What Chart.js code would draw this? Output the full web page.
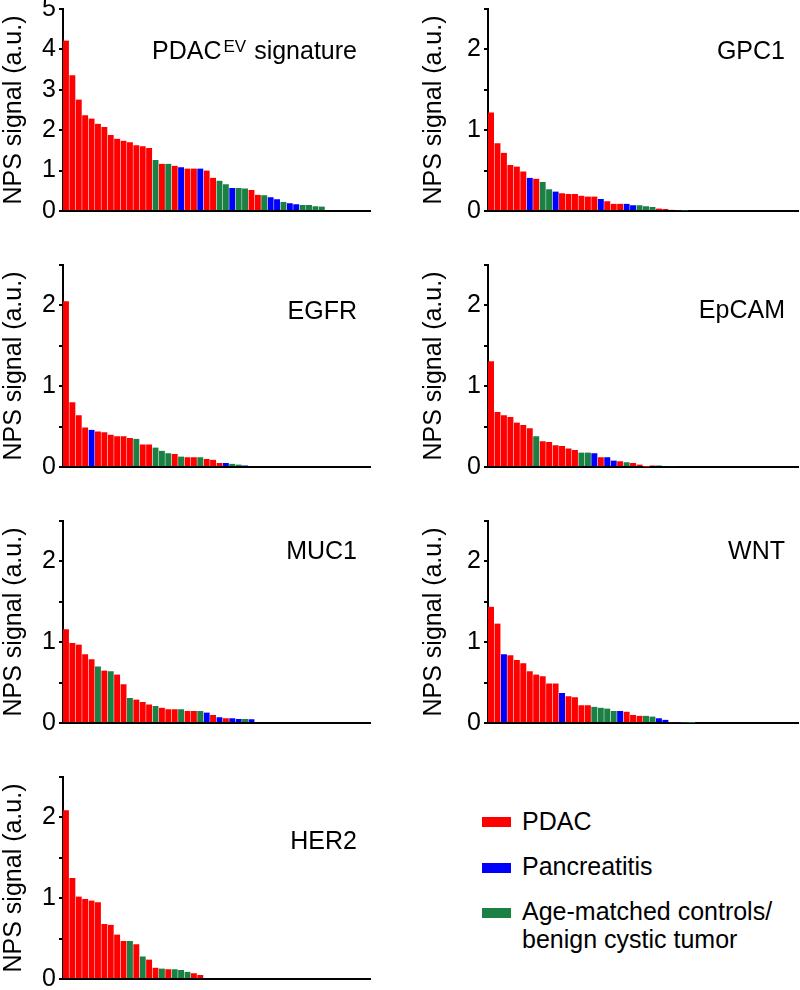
<!DOCTYPE html>
<html>
<head>
<meta charset="utf-8">
<title>NPS signal by marker</title>
<script src="https://cdn.jsdelivr.net/npm/chart.js@4.4.1/dist/chart.umd.min.js"></script>
<style>
  body { margin: 0; background: #fff; }
  #page { position: relative; width: 800px; height: 990px; overflow: hidden; font-family: "Liberation Sans", Arial, Helvetica, sans-serif; }
  #page canvas { position: absolute; }
  .key { position: absolute; left: 482px; font-size: 25px; line-height: 28px; color: #000; }
  .key span.sw { position: absolute; left: 0; width: 29px; height: 10px; }
  .key span.tx { position: absolute; left: 40px; white-space: nowrap; }
</style>
</head>
<body>
<div id="page">
  <canvas id="cSig" width="400" height="238" style="left:0;top:-9px"></canvas>
  <canvas id="cGpc1" width="380" height="238" style="left:420px;top:-9px"></canvas>
  <canvas id="cEgfr" width="400" height="238" style="left:0;top:247px"></canvas>
  <canvas id="cEpcam" width="380" height="238" style="left:420px;top:247px"></canvas>
  <canvas id="cMuc1" width="400" height="238" style="left:0;top:503px"></canvas>
  <canvas id="cWnt" width="380" height="238" style="left:420px;top:503px"></canvas>
  <canvas id="cHer2" width="400" height="238" style="left:0;top:759px"></canvas>

  <div class="key" style="top:807px">
    <span class="sw" style="top:10px;background:#ff0000"></span><span class="tx">PDAC</span>
  </div>
  <div class="key" style="top:852px">
    <span class="sw" style="top:11px;background:#0000ff"></span><span class="tx">Pancreatitis</span>
  </div>
  <div class="key" style="top:897px">
    <span class="sw" style="top:11px;background:#1b8043"></span><span class="tx">Age-matched controls/<br>benign cystic tumor</span>
  </div>
</div>

<script>
// one slot per sample on the x axis
const sampleSlots = 48;
const slotLabels = Array.from({ length: sampleSlots }, (_, i) => String(i + 1));

// group of each bar: P = PDAC, I = pancreatitis, C = age-matched control / benign cystic tumor
const sigValues = [4.22, 3.36, 2.76, 2.37, 2.29, 2.16, 2.08, 1.88, 1.79, 1.74, 1.70, 1.63, 1.60, 1.56,
  1.26, 1.17, 1.17, 1.12, 1.08, 1.05, 1.05, 1.05, 1.00, 0.82, 0.75, 0.66, 0.57, 0.57, 0.56, 0.52,
  0.40, 0.39, 0.34, 0.29, 0.22, 0.19, 0.17, 0.15, 0.15, 0.12, 0.11];
const sigGroups = 'PPPPPPPPPPPPPPCPCPIPPIPPCCICCPPCIICIICCCC';

const gpc1Values = [1.22, 0.84, 0.72, 0.57, 0.55, 0.49, 0.41, 0.40, 0.36, 0.27, 0.24, 0.22, 0.21, 0.21,
  0.19, 0.18, 0.18, 0.15, 0.12, 0.09, 0.09, 0.09, 0.07, 0.07, 0.06, 0.05, 0.03, 0.025, 0.015, 0.01, 0.005];
const gpc1Groups = 'PPPPPPIPCCIPPPPPPIPPPIICCCPPCPC';

const egfrValues = [2.05, 0.80, 0.64, 0.49, 0.46, 0.44, 0.43, 0.40, 0.38, 0.38, 0.36, 0.35, 0.28, 0.28,
  0.24, 0.20, 0.17, 0.16, 0.13, 0.12, 0.12, 0.12, 0.10, 0.09, 0.05, 0.05, 0.04, 0.03, 0.02];
const egfrGroups = 'PPPPIPPPPPPCPPCCCPCPPCPPPICCI';

const epcamValues = [1.31, 0.68, 0.64, 0.62, 0.55, 0.52, 0.48, 0.38, 0.32, 0.31, 0.27, 0.26, 0.23, 0.21,
  0.18, 0.18, 0.17, 0.12, 0.12, 0.08, 0.07, 0.06, 0.05, 0.03, 0.004, 0.02, 0.02, 0.01, 0.01];
const epcamGroups = 'PPPPPPPCPPPPPPCCIPIIPCPPPPCIC';

const muc1Values = [1.16, 0.99, 0.97, 0.85, 0.79, 0.70, 0.65, 0.64, 0.60, 0.48, 0.31, 0.29, 0.26, 0.23,
  0.21, 0.19, 0.17, 0.17, 0.17, 0.15, 0.15, 0.15, 0.13, 0.10, 0.07, 0.06, 0.06, 0.05, 0.05, 0.045];
const muc1Groups = 'PPPPPCPCPPCPPPCPPPCPPCIPIPIICI';

const wntValues = [1.44, 1.23, 0.85, 0.84, 0.78, 0.74, 0.64, 0.60, 0.58, 0.49, 0.49, 0.37, 0.33, 0.32,
  0.22, 0.22, 0.20, 0.19, 0.18, 0.15, 0.15, 0.14, 0.10, 0.09, 0.09, 0.08, 0.06, 0.04, 0.008, 0.006, 0.005, 0.004];
const wntGroups = 'PPIPPPPPPPPIPPPPCCCCIPPPCCIIPICC';

const her2Values = [2.09, 1.25, 1.02, 0.99, 0.97, 0.95, 0.68, 0.67, 0.55, 0.47, 0.47, 0.43, 0.28, 0.24,
  0.14, 0.13, 0.12, 0.12, 0.11, 0.09, 0.07, 0.05];
const her2Groups = 'PPPPPPPPPPCPCPPCPCCCPP';

const groupColors = { P: '#ff0000', I: '#0000ff', C: '#1b8043' };

Chart.defaults.font.family = '"Liberation Sans", Arial, Helvetica, sans-serif';
Chart.defaults.color = '#000';

// panel name drawn inside the plot, right aligned, with optional superscript part
const panelTitle = {
  id: 'panelTitle',
  afterDraw(chart, args, opts) {
    const ctx = chart.ctx;
    const fam = Chart.defaults.font.family;
    const area = chart.chartArea;
    ctx.save();
    ctx.fillStyle = '#000';
    ctx.textBaseline = 'alphabetic';
    let total = 0;
    opts.parts.forEach(p => {
      ctx.font = (p.sup ? 17 : 25) + 'px ' + fam;
      total += ctx.measureText(p.text).width + (p.sup ? 3 : 0);
    });
    let x = area.right - 13 - total;
    const base = area.top + opts.drop;
    opts.parts.forEach(p => {
      ctx.font = (p.sup ? 17 : 25) + 'px ' + fam;
      if (p.sup) x += 2;
      ctx.fillText(p.text, x, p.sup ? base - 7 : base);
      x += ctx.measureText(p.text).width + (p.sup ? 1 : 0);
    });
    ctx.restore();
  }
};

function makePanel(canvasId, values, groups, yMax, step, parts, drop, rightCol) {
  const ctx = document.getElementById(canvasId).getContext('2d');
  return new Chart(ctx, {
    type: 'bar',
    data: {
      labels: slotLabels,
      datasets: [{
        data: values,
        backgroundColor: groups.split('').map(g => groupColors[g]),
        borderColor: 'rgba(255,255,255,0.6)',
        borderWidth: { top: 0, left: 0, bottom: 0, right: 0.8 },
        barPercentage: 1,
        categoryPercentage: 1
      }]
    },
    options: {
      responsive: false,
      animation: false,
      layout: { padding: { left: 0, right: rightCol ? 2 : 30, top: 16, bottom: 16 } },
      plugins: {
        legend: { display: false },
        tooltip: { enabled: false },
        panelTitle: { parts: parts, drop: drop }
      },
      scales: {
        x: {
          offset: true,
          grid: { display: false },
          ticks: { display: false },
          border: { display: true, color: '#000', width: 2 },
          afterFit: s => { s.height = 0; }
        },
        y: {
          min: 0,
          max: yMax,
          ticks: {
            stepSize: step,
            autoSkip: false,
            padding: 3,
            color: '#000',
            font: { size: 25 },
            callback: v => Number.isInteger(v) ? v : ''
          },
          grid: { display: true, drawOnChartArea: false, drawTicks: true, tickLength: 4, color: '#000', lineWidth: 2 },
          border: { display: true, color: '#000', width: 2 },
          title: { display: true, text: 'NPS signal (a.u.)', color: '#000', font: { size: 25, lineHeight: 1 }, padding: 1.5 },
          afterFit: s => { s.width = rightCol ? 68 : 63; }
        }
      }
    },
    plugins: [panelTitle]
  });
}

makePanel('cSig', sigValues, sigGroups, 5, 1, [{ text: 'PDAC' }, { text: 'EV', sup: true }, { text: ' signature' }], 50, false);
makePanel('cGpc1', gpc1Values, gpc1Groups, 2.5, 0.5, [{ text: 'GPC1' }], 50, true);
makePanel('cEgfr', egfrValues, egfrGroups, 2.5, 0.5, [{ text: 'EGFR' }], 54, false);
makePanel('cEpcam', epcamValues, epcamGroups, 2.5, 0.5, [{ text: 'EpCAM' }], 53, true);
makePanel('cMuc1', muc1Values, muc1Groups, 2.5, 0.5, [{ text: 'MUC1' }], 38, false);
makePanel('cWnt', wntValues, wntGroups, 2.5, 0.5, [{ text: 'WNT' }], 38, true);
makePanel('cHer2', her2Values, her2Groups, 2.5, 0.5, [{ text: 'HER2' }], 72, false);
</script>
</body>
</html>
